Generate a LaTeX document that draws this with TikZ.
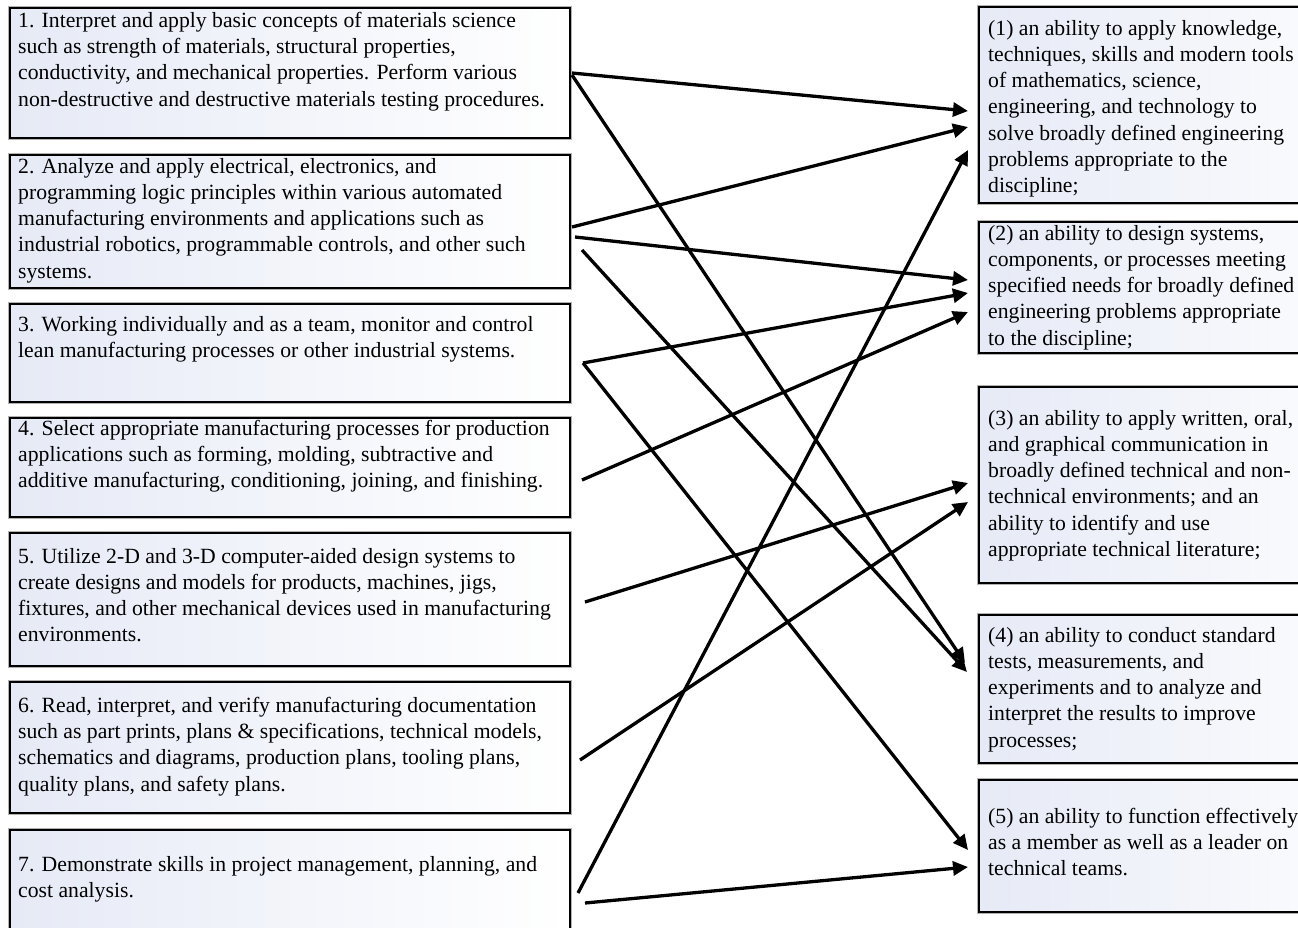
\documentclass[tikz,border=0pt]{standalone}
\usepackage{fontspec}
\setmainfont{Liberation Serif}
\usetikzlibrary{arrows.meta}
\definecolor{boxtint}{RGB}{230,234,246}

\begin{document}
\begin{tikzpicture}[x=1pt, y=-1pt,
    box/.style={draw=black, line width=2.8pt, left color=boxtint, right color=white,
        preaction={draw=black!30, line width=4.8pt}, anchor=north west,
        inner sep=0pt, outer sep=0pt},
    obox/.style={box, minimum width=560pt},
    pbox/.style={box, minimum width=420pt},
    txt/.style={anchor=north west, inner sep=0pt, align=left,
        font=\fontsize{21.7}{26.2}\selectfont},
    arr/.style={line width=3.3pt, -{Triangle[length=15pt,width=14pt]}}]
    \useasboundingbox (0,0) rectangle (1298,927);
    \clip (0,0) rectangle (1298,927);
    % Course outcomes on the left
    \node[obox, minimum height=130pt] (o1) at (10,8) {};
    \node[obox, minimum height=133pt] (o2) at (10,155) {};
    \node[obox, minimum height=98pt] (o3) at (10,304) {};
    \node[obox, minimum height=99pt] (o4) at (10,418) {};
    \node[obox, minimum height=133pt] (o5) at (10,533) {};
    \node[obox, minimum height=131pt] (o6) at (10,682) {};
    \node[obox, minimum height=115pt] (o7) at (10,830) {};
    \node[txt] (t1) at ([shift={(8,4)}]o1.north west) {1. Interpret and apply basic concepts of materials science\\
        such as strength of materials, structural properties,\\
        conductivity, and mechanical properties. Perform various\\
        non-destructive and destructive materials testing procedures.};
    \node[txt] (t2) at ([shift={(8,3)}]o2.north west) {2. Analyze and apply electrical, electronics, and\\
        programming logic principles within various automated\\
        manufacturing environments and applications such as\\
        industrial robotics, programmable controls, and other such\\
        systems.};
    \node[txt] (t3) at ([shift={(8,12)}]o3.north west) {3. Working individually and as a team, monitor and control\\
        lean manufacturing processes or other industrial systems.};
    \node[txt] (t4) at ([shift={(8,2)}]o4.north west) {4. Select appropriate manufacturing processes for production\\
        applications such as forming, molding, subtractive and\\
        additive manufacturing, conditioning, joining, and finishing.};
    \node[txt] (t5) at ([shift={(8,15)}]o5.north west) {5. Utilize 2-D and 3-D computer-aided design systems to\\
        create designs and models for products, machines, jigs,\\
        fixtures, and other mechanical devices used in manufacturing\\
        environments.};
    \node[txt] (t6) at ([shift={(8,15)}]o6.north west) {6. Read, interpret, and verify manufacturing documentation\\
        such as part prints, plans \& specifications, technical models,\\
        schematics and diagrams, production plans, tooling plans,\\
        quality plans, and safety plans.};
    \node[txt] (t7) at ([shift={(8,26)}]o7.north west) {7. Demonstrate skills in project management, planning, and\\
        cost analysis.};
    % Student outcomes on the right
    \node[pbox, minimum height=196pt] (p1) at (979,7) {};
    \node[pbox, minimum height=131pt] (p2) at (979,222) {};
    \node[pbox, minimum height=196pt] (p3) at (979,387) {};
    \node[pbox, minimum height=148pt] (p4) at (979,615) {};
    \node[pbox, minimum height=132pt] (p5) at (979,780) {};
    \node[txt] (q1) at ([shift={(9,13)}]p1.north west) {(1) an ability to apply knowledge,\\
        techniques, skills and modern tools\\
        of mathematics, science,\\
        engineering, and technology to\\
        solve broadly defined engineering\\
        problems appropriate to the\\
        discipline;};
    \node[txt] (q2) at ([shift={(9,3)}]p2.north west) {(2) an ability to design systems,\\
        components, or processes meeting\\
        specified needs for broadly defined\\
        engineering problems appropriate\\
        to the discipline;};
    \node[txt] (q3) at ([shift={(9,23)}]p3.north west) {(3) an ability to apply written, oral,\\
        and graphical communication in\\
        broadly defined technical and non-\\
        technical environments; and an\\
        ability to identify and use\\
        appropriate technical literature;};
    \node[txt] (q4) at ([shift={(9,12)}]p4.north west) {(4) an ability to conduct standard\\
        tests, measurements, and\\
        experiments and to analyze and\\
        interpret the results to improve\\
        processes;};
    \node[txt] (q5) at ([shift={(9,28)}]p5.north west) {(5) an ability to function effectively\\
        as a member as well as a leader on\\
        technical teams.};
    % Mapping arrows
    \draw[arr] ([shift={(2,0)}]o1.east) -- ([shift={(-11,6)}]p1.west);
    \draw[arr] ([shift={(2,2)}]o1.east) -- ([shift={(-14,-26)}]p4.west);
    \draw[arr] ([shift={(2,5.5)}]o2.east) -- ([shift={(-11,22)}]p1.west);
    \draw[arr] ([shift={(5,15.5)}]o2.east) -- ([shift={(-11,-7.5)}]p2.west);
    \draw[arr] ([shift={(12,28.5)}]o2.east) -- ([shift={(-12,-17)}]p4.west);
    \draw[arr] ([shift={(13,10)}]o3.east) -- ([shift={(-11,5.5)}]p2.west);
    \draw[arr] ([shift={(13,10)}]o3.east) -- ([shift={(-11,4)}]p5.west);
    \draw[arr] ([shift={(12,12.5)}]o4.east) -- ([shift={(-11,24.5)}]p2.west);
    \draw[arr] ([shift={(15,2.5)}]o5.east) -- ([shift={(-11,-2)}]p3.west);
    \draw[arr] ([shift={(10,12.5)}]o6.east) -- ([shift={(-11,17)}]p3.west);
    \draw[arr] ([shift={(8,5.5)}]o7.east) -- ([shift={(-11,45)}]p1.west);
    \draw[arr] ([shift={(15,15.5)}]o7.east) -- ([shift={(-11,21)}]p5.west);
\end{tikzpicture}
\end{document}
